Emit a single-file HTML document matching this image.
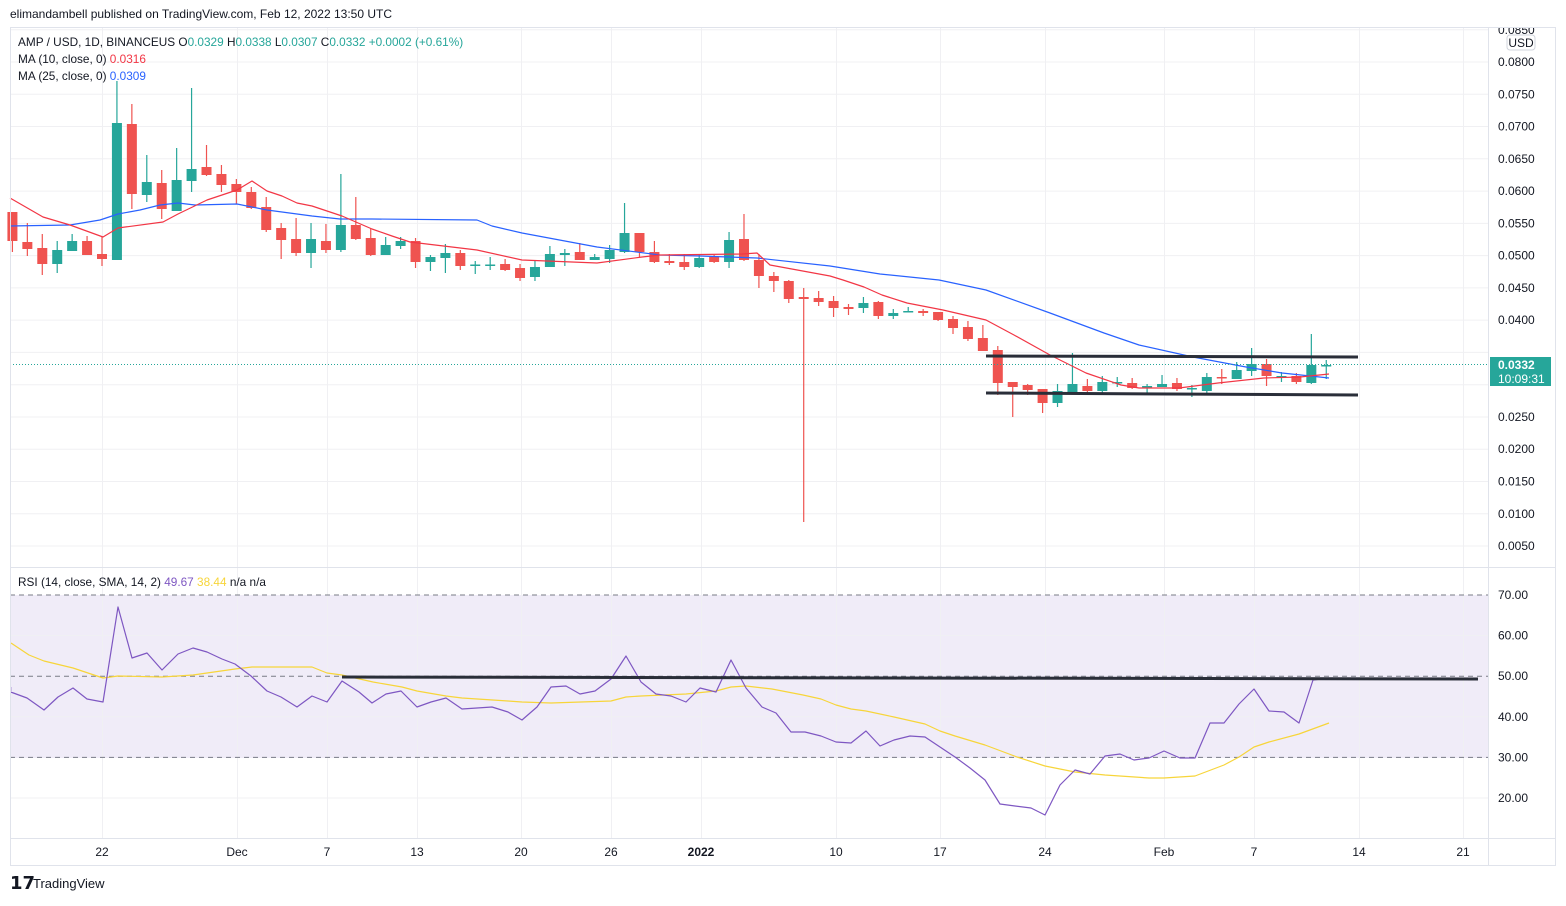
<!DOCTYPE html>
<html><head><meta charset="utf-8"><style>
body{margin:0;background:#fff;width:1566px;height:901px;overflow:hidden;font-family:"Liberation Sans",sans-serif}
svg text{font-family:"Liberation Sans",sans-serif}
</style></head><body>
<svg id="s" width="1566" height="901" xmlns="http://www.w3.org/2000/svg">
<rect width="1566" height="901" fill="#fff"/>
<text x="10" y="18" font-size="12" fill="#131722">elimandambell published on TradingView.com, Feb 12, 2022 13:50 UTC</text>
<rect x="10" y="595" width="1478" height="163" fill="#f0ecf8"/>
<g id="grid" stroke="#f0f0f3" stroke-width="1"></g>
<g id="ch"></g>
<rect x="10.5" y="27.5" width="1545" height="838" fill="none" stroke="#e0e3eb"/>
<line x1="10" y1="567.5" x2="1556" y2="567.5" stroke="#e0e3eb"/>
<line x1="10" y1="838.5" x2="1556" y2="838.5" stroke="#e0e3eb"/>
<line x1="1488.5" y1="27" x2="1488.5" y2="866" stroke="#e0e3eb"/>
<g font-size="11.8" fill="#131722">
<text x="18" y="46">AMP / USD, 1D, BINANCEUS <tspan>O</tspan><tspan fill="#26a69a">0.0329</tspan> H<tspan fill="#26a69a">0.0338</tspan> L<tspan fill="#26a69a">0.0307</tspan> C<tspan fill="#26a69a">0.0332</tspan> <tspan fill="#26a69a">+0.0002 (+0.61%)</tspan></text>
<text x="18" y="63">MA (10, close, 0) <tspan fill="#f23645">0.0316</tspan></text>
<text x="18" y="80">MA (25, close, 0) <tspan fill="#2962ff">0.0309</tspan></text>
<text x="18" y="586">RSI (14, close, SMA, 14, 2) <tspan fill="#7e57c2">49.67</tspan> <tspan fill="#f7d53a">38.44</tspan> n/a n/a</text>
</g>
<svg x="1489" y="28" width="66" height="20"><text x="9" y="6" font-size="12" fill="#131722">0.0850</text></svg>
<g id="ax" font-size="12" fill="#131722"></g>
<rect x="1507" y="35" width="28" height="15" rx="3" fill="#fff" stroke="#d1d4dc"/>
<text x="1521" y="47" font-size="12" text-anchor="middle" fill="#131722">USD</text>
<rect x="1490" y="357" width="61" height="29" fill="#26a69a"/>
<text x="1498" y="369" font-size="12" fill="#fff" font-weight="bold">0.0332</text>
<text x="1498" y="383" font-size="12" fill="#fff">10:09:31</text>
<text x="10" y="889" font-size="18" font-weight="bold" fill="#131722">𝟭𝟳</text>
<text x="33" y="888" font-size="13" fill="#131722">TradingView</text>
</svg>
<script>
const NS="http://www.w3.org/2000/svg";
function el(p,t,a){const e=document.createElementNS(NS,t);for(const k in a)e.setAttribute(k,a[k]);p.appendChild(e);return e;}
const grid=document.getElementById('grid'),ch=document.getElementById('ch'),ax=document.getElementById('ax');
const ticks=[[102,"22"],[237,"Dec"],[327,"7"],[417,"13"],[521,"20"],[611,"26"],[701,"2022"],[836,"10"],[940,"17"],[1045,"24"],[1164,"Feb"],[1254,"7"],[1359,"14"],[1463,"21"]];
ticks.forEach(t=>{el(grid,'line',{x1:t[0]+.5,y1:28,x2:t[0]+.5,y2:838});const tx=el(ax,'text',{x:t[0],y:856,'text-anchor':'middle'});tx.textContent=t[1];if(t[1]=="2022")tx.setAttribute('font-weight','bold');});
for(let k=0;k<17;k++){const p=0.085-k*0.005;const y=62+(0.08-p)/0.005*32.27;if(y<566){el(grid,'line',{x1:10,y1:y,x2:1488,y2:y});if(k>0&&!(y>345&&y<392)){const t=el(ax,'text',{x:1498,y:y+4});t.textContent=p.toFixed(4);}}}
[[70,595],[60,635.6],[50,676.2],[40,716.8],[30,757.4],[20,798]].forEach(r=>{const t=el(ax,'text',{x:1498,y:r[1]+4});t.textContent=r[0].toFixed(2);
 if(r[0]==70||r[0]==50||r[0]==30) el(ch,'line',{x1:10,y1:r[1],x2:1488,y2:r[1],stroke:'#787b86','stroke-dasharray':'5,4','stroke-width':1});
 else el(grid,'line',{x1:10,y1:r[1],x2:1488,y2:r[1]});});
const C=[[-6,212,241,212,252],[-5,242,249,223,256],[-4,248,264,234,275],[-3,264,250,241,273],[-2,251,241,234,251],[-1,241,255,236,255],[0,254,259,237,266],
[1,260,123,81,260],[2,124,194,104,209],[3,195,182,155,202],[4,183,209,170,219],[5,211,180,148,211],[6,181,169,88,192],[7,167,175,145,176],[8,174,185,165,192],[9,184,192,179,204],[10,192,208,187,209],[11,207,230,197,232],[12,228,240,223,259],[13,239,253,218,256],[14,253,239,223,268],[15,241,250,224,253],[16,250,225,174,252],[17,225,239,197,240],[18,238,255,228,256],[19,255,245,237,255],[20,246,241,237,249],[21,241,262,238,268],
[22,262,257,255,271],[23,258,253,244,273],[24,253,266,250,270],[25,266,264.5,261,274,1],[26,266,264.5,257,270,1],[27,264,270,259,271],[28,268,278,264,281],[29,277,267,261,281],[30,267,254,246,267],[31,255,253,249,266],[32,252,260,243,260],[33,260,257,254,260],[34,259,250,245,263],[35,252,233,203,253],[36,233,252,233,257],[37,252,262,241,263],[38,261,263,254,265],[39,262,267,254,270],[40,267,258,255,268],[41,257,262,255,263],[42,262,240,232,268],[43,239,260,214,261],[44,260,276,254,288],[45,276,281,272,292],[46,281,299,280,303],[47,297,299,288,522],[48,298,302,291,306],
[49,301,308,296,317],[50,307,309,304,315],[51,308,303,297,313],[52,302,316,301,319],[53,316,313,309,319],[54,312.5,311,307,312.5],[55,311,313,309,316],[56,312,320,312,321],[57,319,328,316,334],[58,327,339,321,341],[59,338,351,325,351],[60,350,383,346,395],[61,382,387,382,417],[62,385,390,384,395],[63,389,403,389,413],[64,403,391,384,407],[65,392,384,353,392],[66,386,391,379,395],[67,391,382,376,393],[68,383,382,377,387],[69,383,388,378,389],[70,388,386,384,395],[71,387,384,375,387],[72,383,389,378,391],[73,389,388,385,397],[74,391,377,373,393],[75,377,378,369,384,0],[76,379,370,362,379],[77,371,364,348,376],[78,364,376,359,386],[79,377,376,372,382],[80,376,382,373,384],[81,383,365,334,384],[82,366,365,360,379]];
C.forEach(c=>{const x=102+c[0]*14.93;let g=c[2]<c[1];if(c.length>5)g=!!c[5];const col=g?'#26a69a':'#ef5350';
el(ch,'line',{x1:x,y1:c[3],x2:x,y2:c[4],stroke:col,'stroke-width':1.2});
const t=Math.min(c[1],c[2]),h=Math.max(1.5,Math.abs(c[1]-c[2]));el(ch,'rect',{x:x-5,y:t,width:10,height:h,fill:col});});
function pl(pts,col,w){el(ch,'polyline',{points:pts.map(p=>p.join(',')).join(' '),fill:'none',stroke:col,'stroke-width':w,'stroke-linejoin':'round'});}
pl([[10,226],[70,225],[100,220],[118,214],[140,210],[160,205],[178,203],[195,205],[237,204],[267,210],[312,216],[340,219],[372,219],[477,220],[492,226],[522,233],[597,247],[660,255],[700,256],[757,258],[830,266],[880,274],[939,280],[986,290],[1050,313],[1104,333],[1139,345],[1193,357],[1246,367],[1282,373],[1329,378]],'#2962ff',1.2);
pl([[10,198],[43,217],[70,225],[103,237],[118,228],[163,222],[178,214],[207,200],[237,190],[252,181],[267,191],[282,196],[297,203],[312,206],[342,216],[372,229],[392,236],[410,242],[477,250],[522,260],[597,263],[642,257],[660,255],[742,254],[757,253],[770,265],[830,276],[843,280],[864,287],[882,295],[907,303],[943,310],[986,320],[1014,335],[1050,355],[1086,373],[1121,385],[1139,388],[1179,388],[1218,383],[1264,378],[1300,377],[1329,374]],'#f23645',1.2);
el(ch,'line',{x1:986,y1:356,x2:1358,y2:357,stroke:'#2a2e39','stroke-width':3});
el(ch,'line',{x1:986,y1:393,x2:1358,y2:395,stroke:'#2a2e39','stroke-width':3});
el(ch,'line',{x1:10,y1:364.5,x2:1488,y2:364.5,stroke:'#26a69a','stroke-width':1,'stroke-dasharray':'1,2'});
pl([[11,643],[29,655],[44,661],[73,668],[103,678],[118,676],[162,677],[193,675],[207,673],[235,669],[252,667],[281,667],[312,667],[327,673],[342,675],[373,682],[402,687],[417,691],[446,696],[462,698],[508,701],[522,702],[551,703],[611,701],[626,697],[641,696],[686,694],[716,691],[731,687],[746,686],[772,689],[803,695],[821,699],[836,705],[851,709],[866,711],[894,717],[925,724],[940,731],[955,736],[985,745],[1017,757],[1045,766],[1075,772],[1105,775],[1149,778],[1164,778],[1195,776],[1224,765],[1239,757],[1254,747],[1269,742],[1299,734],[1329,723]],'#f7d53a',1.2);
pl([[10.7,687],[10.7,692],[27,698],[44,710],[58,697],[73,688],[87,699],[103,702],[118,607],[132,658],[147,653],[162,670],[178,654],[193,648],[207,652],[222,659],[235,664],[251,676],[267,691],[281,697],[297,707],[312,696],[327,702],[342,681],[359,692],[372,703],[386,694],[401,691],[417,707],[431,702],[446,698],[462,709],[492,707],[508,712],[522,720],[537,707],[551,687],[566,686],[580,694],[595,691],[611,679],[626,656],[641,682],[656,694],[671,696],[686,702],[700,688],[716,692],[731,660],[746,688],[762,707],[776,713],[791,732],[805,732],[821,736],[836,742],[851,743],[866,731],[880,746],[894,740],[910,736],[925,737],[940,747],[955,757],[970,768],[985,780],[1000,804],[1015,806],[1031,808],[1045,815],[1060,785],[1075,770],[1090,774],[1105,756],[1120,754],[1134,760],[1149,758],[1164,751],[1180,758],[1195,758],[1210,723],[1224,723],[1239,704],[1254,689],[1269,711],[1284,712],[1299,723],[1313,680],[1329,678]],'#7e57c2',1.2);
el(ch,'line',{x1:342,y1:677,x2:1478,y2:679,stroke:'#2a2e39','stroke-width':3});
</script>
</body></html>
